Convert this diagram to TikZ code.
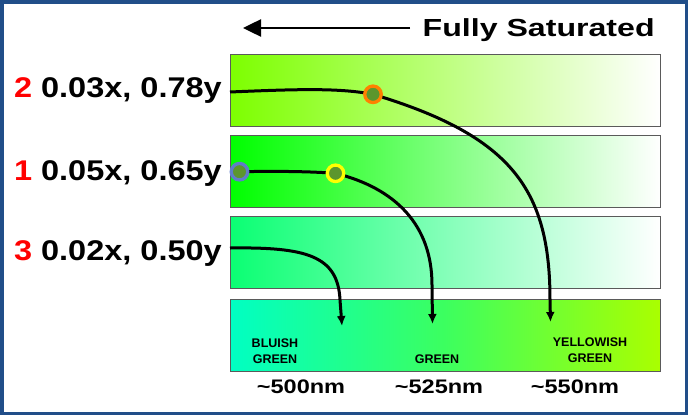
\documentclass[tikz,border=0pt]{standalone}
\usepackage{fontspec}
\setmainfont{Liberation Sans}
\newfontfamily\widefont[FakeStretch=1.2]{Liberation Sans}
\newfontfamily\lblfont[FakeStretch=1.14]{Liberation Sans}
\newfontfamily\titlefont[FakeStretch=1.3]{Liberation Sans}
\usetikzlibrary{arrows.meta}

\definecolor{framecol}{RGB}{33,78,137}
\definecolor{barline}{RGB}{90,90,90}
\definecolor{chartreuse}{RGB}{125,255,0}
\definecolor{puregreen}{RGB}{0,255,0}
\definecolor{springgreen}{RGB}{10,255,115}
\definecolor{aquagreen}{RGB}{0,255,195}
\definecolor{midgreen}{RGB}{60,255,95}
\definecolor{yellowgreen}{RGB}{170,255,0}
\definecolor{dotfill}{RGB}{92,150,45}
\definecolor{orangering}{RGB}{255,128,0}
\definecolor{bluering}{RGB}{95,125,200}
\definecolor{yellowring}{RGB}{255,255,0}
\definecolor{labelred}{RGB}{255,0,0}

\tikzset{
  bar/.style = {draw = barline, line width = 1pt, minimum width = 430pt,
    minimum height = 72.5pt, inner sep = 0pt},
  dot/.style = {circle, inner sep = 0pt, minimum size = 16.5pt,
    line width = 3.3pt, fill = dotfill, draw = #1},
  curve/.style = {line width = 3pt, -{Latex[length = 10pt, width = 9pt]}},
  coordlbl/.style = {font = \lblfont\bfseries\fontsize{28.5}{30}\selectfont,
    inner sep = 0pt, anchor = base east},
  nmlbl/.style = {font = \widefont\bfseries\fontsize{19.6}{22}\selectfont,
    inner sep = 0pt, anchor = base},
  huelbl/.style = {font = \bfseries\fontsize{12.5}{16}\selectfont, align = center,
    inner sep = 0pt, anchor = south, text depth = 0pt}
}

\begin{document}
\begin{tikzpicture}[x = 1pt, y = -1pt]
  \useasboundingbox (0, 0) rectangle (688, 415);
  \draw[framecol, line width = 3.5pt] (1.75, 1.75) rectangle (686.25, 413.25);

  \node[font = \titlefont\bfseries\fontsize{24.7}{26}\selectfont, anchor = base west,
    inner sep = 0pt] (title) at (422.5, 36.7) {Fully Saturated};
  \coordinate (satstart) at (410, 28);
  \coordinate (sattip) at (243, 28);
  \draw[line width = 2.5pt, -{Triangle[length = 18pt, width = 17pt]}] (satstart) -- (sattip);

  \node[bar, left color = chartreuse, right color = white] (bar2) at (445, 90.5) {};
  \node[bar, left color = puregreen, right color = white] (bar1) at (445, 171.25) {};
  \node[bar, left color = springgreen, right color = white] (bar3) at (445, 252.25) {};
  \node[bar, minimum height = 72pt, left color = aquagreen, right color = yellowgreen,
    middle color = midgreen] (spec) at (445, 335) {};

  \node[coordlbl] (lbl2) at (222, 97) {\textcolor{labelred}{2} 0.03x, 0.78y};
  \node[coordlbl] (lbl1) at (222, 180) {\textcolor{labelred}{1} 0.05x, 0.65y};
  \node[coordlbl] (lbl3) at (222, 260.5) {\textcolor{labelred}{3} 0.02x, 0.50y};

  \coordinate (s2) at (230, 92);
  \coordinate (p2) at (373, 94.3);
  \coordinate (t2) at (550.5, 322);
  \coordinate (p1a) at (239.5, 171.7);
  \coordinate (p1b) at (335.5, 173.3);
  \coordinate (t1) at (432.5, 324);
  \coordinate (s3) at (230, 248);
  \coordinate (t3) at (342, 326);

  \draw[curve] (s2) .. controls (300, 89) and (340, 88) .. (p2)
    .. controls (512, 136) and (550, 190) .. (550, 300) -- (t2);
  \draw[curve] (p1a) .. controls (280, 171) and (310, 171.5) .. (p1b)
    .. controls (395.5, 188.3) and (432, 225) .. (432, 285) -- (t1);
  \draw[curve] (s3) .. controls (305, 247) and (338, 255) .. (340, 300) -- (t3);

  \node[dot = orangering] (d2) at (p2) {};
  \node[dot = bluering] (d1a) at (p1a) {};
  \node[dot = yellowring] (d1b) at (p1b) {};

  \node[huelbl] (bluish) at (275, 364) {BLUISH\\GREEN};
  \node[huelbl] (green) at (437, 363.3) {GREEN};
  \node[huelbl] (yellowish) at (590, 362.3) {YELLOWISH\\GREEN};

  \node[nmlbl] (nm500) at (301, 393) {\textasciitilde500nm};
  \node[nmlbl] (nm525) at (439, 393) {\textasciitilde525nm};
  \node[nmlbl] (nm550) at (575, 393) {\textasciitilde550nm};
\end{tikzpicture}
\end{document}
